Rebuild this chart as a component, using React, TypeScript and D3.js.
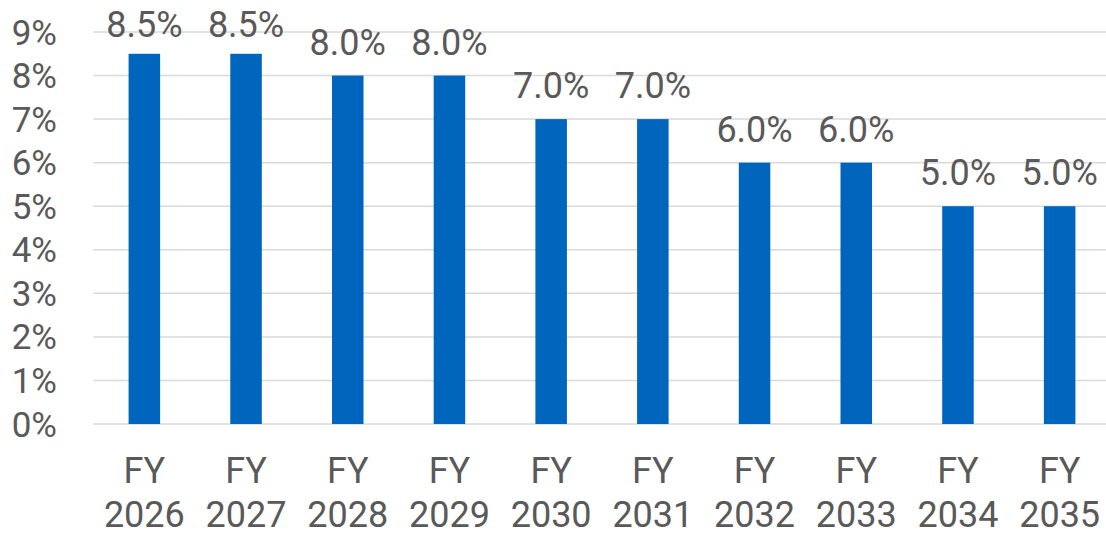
import React from 'react';
import * as d3 from 'd3';

const width = 1106;
const height = 535;

const categories = ['FY 2026', 'FY 2027', 'FY 2028', 'FY 2029', 'FY 2030', 'FY 2031', 'FY 2032', 'FY 2033', 'FY 2034', 'FY 2035'];
const values = [8.5, 8.5, 8.0, 8.0, 7.0, 7.0, 6.0, 6.0, 5.0, 5.0];
const yTicks = [0, 1, 2, 3, 4, 5, 6, 7, 8, 9];

const textColor = '#595959';
const barColor = '#0065bd';
const gridColor = '#d9d9d9';
const font = 'Roboto, sans-serif';

const App = () => {
	const x = d3
		.scaleBand<string>()
		.domain(categories)
		.range([93.5, 1110.5])
		.paddingInner(0.69)
		.paddingOuter(0.345);
	const y = d3.scaleLinear().domain([0, 9]).range([424, 32]);

	return (
		<svg
			width={width}
			height={height}
			style={{ position: 'absolute', left: 0, top: 0, background: '#fff' }}
			fontFamily={font}
		>
			{yTicks.map((t) => (
				<g key={t}>
					<line x1={93.5} x2={width} y1={y(t)} y2={y(t)} stroke={gridColor} strokeWidth={1.5} />
					<text x={57} y={y(t)} dy="0.36em" textAnchor="end" fontSize={35} fill={textColor}>
						{t}%
					</text>
				</g>
			))}
			{categories.map((c, i) => {
				const bx = x(c)!;
				const cx = bx + x.bandwidth() / 2;
				const top = y(values[i]);
				const labelY = Math.max(top - 21, 36.5);
				const [line1, line2] = c.split(' ');
				return (
					<g key={c}>
						<rect x={bx} y={top} width={x.bandwidth()} height={y(0) - top} fill={barColor} />
						<text x={cx} y={labelY} textAnchor="middle" fontSize={36} fill={textColor}>
							{values[i].toFixed(1)}%
						</text>
						<text x={cx} y={483} textAnchor="middle" fontSize={36} fill={textColor}>
							{line1}
						</text>
						<text x={cx} y={527} textAnchor="middle" fontSize={36} fill={textColor}>
							{line2}
						</text>
					</g>
				);
			})}
		</svg>
	);
};

export default App;
